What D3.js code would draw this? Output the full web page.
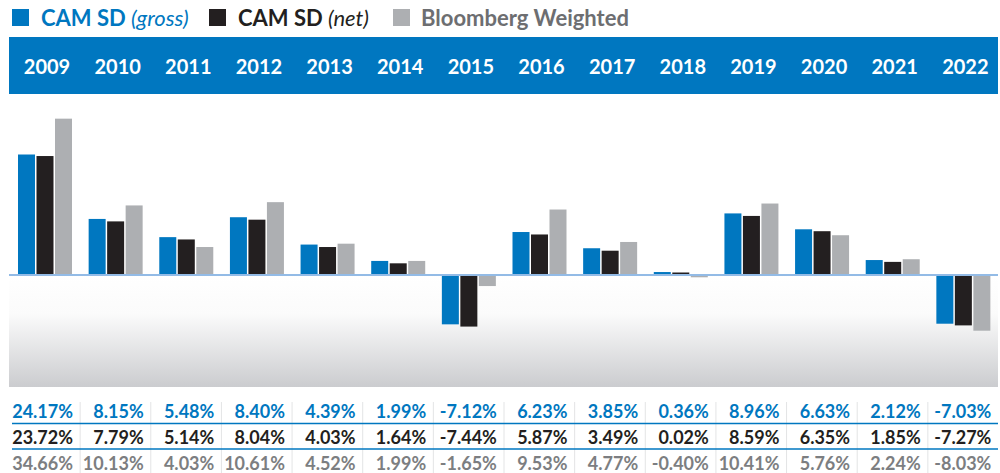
<!DOCTYPE html>
<html>
<head>
<meta charset="utf-8">
<script src="https://cdn.jsdelivr.net/npm/d3@7"></script>
<style>
  body { margin: 0; background: #fff; }
  svg { display: block; font-family: Lato, "Open Sans", sans-serif; }
</style>
</head>
<body>
<div id="chart"></div>
<script>
var YEARS = ["2009", "2010", "2011", "2012", "2013", "2014", "2015", "2016", "2017", "2018", "2019", "2020", "2021", "2022"];
var GROSS = [24.17, 8.15, 5.48, 8.40, 4.39, 1.99, -7.12, 6.23, 3.85, 0.36, 8.96, 6.63, 2.12, -7.03];
var NET = [23.72, 7.79, 5.14, 8.04, 4.03, 1.64, -7.44, 5.87, 3.49, 0.02, 8.59, 6.35, 1.85, -7.27];
var BLOOMBERG = [34.66, 10.13, 4.03, 10.61, 4.52, 1.99, -1.65, 9.53, 4.77, -0.40, 10.41, 5.76, 2.24, -8.03];

var SERIES = [
  { key: "gross", name: "CAM SD", note: "(gross)", values: GROSS, color: "#0077c0", text: "#0077c0" },
  { key: "net", name: "CAM SD", note: "(net)", values: NET, color: "#231f20", text: "#231f20" },
  { key: "bloomberg", name: "Bloomberg Weighted", note: "", values: BLOOMBERG, color: "#adafb2", text: "#6d6e71" }
];
var ROW_COLORS = ["#0077c0", "#231f20", "#7c7e81"];

var WIDTH = 1000;
var HEIGHT = 473;
var LEFT = 9;
var RIGHT = 998;
var BLUE = "#0077c0";

var svg = d3.select("#chart").append("svg")
  .attr("width", WIDTH)
  .attr("height", HEIGHT);

// columns
var x = d3.scaleBand()
  .domain(YEARS)
  .range([LEFT, RIGHT]);

var xInner = d3.scaleBand()
  .domain(SERIES.map(function(s) { return s.key; }))
  .range([0, 54])
  .paddingInner(0.081);

// the tall 2009 bars are squeezed above 11%, so the scale has a knee there
var y = d3.scaleLinear()
  .domain([-10, 0, 11, 35])
  .range([344.5, 274.5, 199.5, 117.5]);

// gradient under the zero line
var defs = svg.append("defs");
var grad = defs.append("linearGradient")
  .attr("id", "neg")
  .attr("x1", 0).attr("y1", 0).attr("x2", 0).attr("y2", 1);
grad.append("stop").attr("offset", "0").attr("stop-color", "#ffffff");
grad.append("stop").attr("offset", "0.35").attr("stop-color", "#fbfbfb");
grad.append("stop").attr("offset", "1").attr("stop-color", "#cbcccf");

svg.append("rect")
  .attr("x", LEFT)
  .attr("y", y(0))
  .attr("width", RIGHT - LEFT)
  .attr("height", 387 - y(0))
  .attr("fill", "url(#neg)");

// legend
var legendX = [12, 209, 393];
var legend = svg.selectAll(".legend")
  .data(SERIES)
  .enter()
  .append("g")
  .attr("class", "legend")
  .attr("transform", function(d, i) { return "translate(" + legendX[i] + ",0)"; });

legend.append("rect")
  .attr("x", 0)
  .attr("y", 9)
  .attr("width", 17)
  .attr("height", 17)
  .attr("fill", function(d) { return d.color; });

var legendText = legend.append("text")
  .attr("x", function(d, i) { return i == 2 ? 28 : 29; })
  .attr("y", 26)
  .attr("font-size", 22)
  .attr("fill", function(d) { return d.text; });

legendText.append("tspan")
  .attr("font-weight", 700)
  .text(function(d) { return d.name; });

legendText.append("tspan")
  .attr("font-style", "italic")
  .attr("font-weight", 400)
  .text(function(d) { return d.note ? " " + d.note : ""; });

// year band
svg.append("rect")
  .attr("x", LEFT)
  .attr("y", 37)
  .attr("width", RIGHT - LEFT)
  .attr("height", 57)
  .attr("fill", BLUE);

svg.selectAll(".year")
  .data(YEARS)
  .enter()
  .append("text")
  .attr("class", "year")
  .attr("x", function(d) { return x(d) + 38; })
  .attr("y", 74)
  .attr("text-anchor", "middle")
  .attr("font-size", 20)
  .attr("font-weight", 700)
  .attr("fill", "#ffffff")
  .text(function(d) { return d; });

// bars
var groups = svg.selectAll(".year-group")
  .data(YEARS)
  .enter()
  .append("g")
  .attr("class", "year-group")
  .attr("transform", function(d) { return "translate(" + (x(d) + 36 - 27) + ",0)"; });

groups.selectAll("rect")
  .data(function(d, i) {
    return SERIES.map(function(s) { return { key: s.key, color: s.color, value: s.values[i] }; });
  })
  .enter()
  .append("rect")
  .attr("x", function(d) { return xInner(d.key); })
  .attr("width", xInner.bandwidth())
  .attr("y", function(d) { return d.value >= 0 ? Math.min(y(d.value), y(0) - 2) : y(0); })
  .attr("height", function(d) { return Math.max(2, Math.abs(y(d.value) - y(0))); })
  .attr("fill", function(d) { return d.color; });

// zero line
svg.append("line")
  .attr("x1", LEFT)
  .attr("x2", RIGHT)
  .attr("y1", y(0) + 0.5)
  .attr("y2", y(0) + 0.5)
  .attr("stroke", "#93bbe6")
  .attr("stroke-width", 2);

// table
var rowY = [418, 444, 470];

svg.selectAll(".divider")
  .data(YEARS.slice(1))
  .enter()
  .append("line")
  .attr("class", "divider")
  .attr("x1", function(d) { return x(d) + 0.5; })
  .attr("x2", function(d) { return x(d) + 0.5; })
  .attr("y1", 402)
  .attr("y2", HEIGHT)
  .attr("stroke", "#e3e4e5")
  .attr("stroke-width", 1);

[423.5, 449].forEach(function(ly) {
  svg.append("line")
    .attr("x1", 12)
    .attr("x2", RIGHT)
    .attr("y1", ly)
    .attr("y2", ly)
    .attr("stroke", BLUE)
    .attr("stroke-width", 1.5);
});

SERIES.forEach(function(s, r) {
  svg.selectAll(".row-" + s.key)
    .data(s.values)
    .enter()
    .append("text")
    .attr("class", "row-" + s.key)
    .attr("x", function(d, i) { return x(YEARS[i]) + 64; })
    .attr("y", rowY[r])
    .attr("text-anchor", "end")
    .attr("font-size", 18)
    .attr("font-weight", 700)
    .attr("fill", ROW_COLORS[r])
    .text(function(d) { return d.toFixed(2) + "%"; });
});
</script>
</body>
</html>
